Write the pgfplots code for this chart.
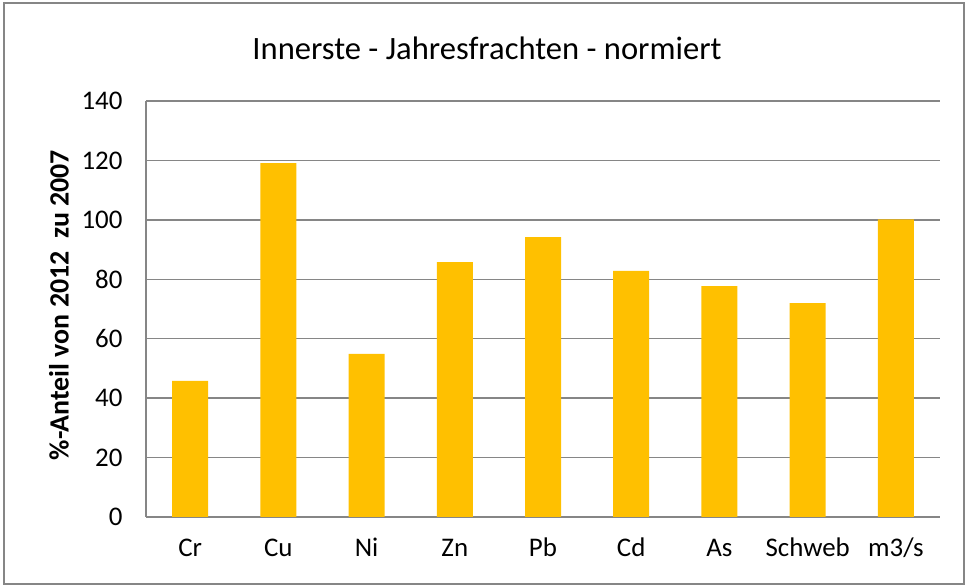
\documentclass[border=0pt]{standalone}
\usepackage{pgfplots}
\pgfplotsset{compat=1.18}
\usepackage{fontspec}
\setmainfont{Carlito}
\definecolor{bargold}{HTML}{FFC000}
\definecolor{gridgray}{HTML}{868686}
\begin{document}
\begin{tikzpicture}[x=1bp,y=1bp]
\path[use as bounding box] (0,0) rectangle (968,587);
\draw[gridgray,line width=2bp] (4,3) rectangle (964,584);
\node[font=\fontsize{32.7}{35}\selectfont] at (487,539) {Innerste - Jahresfrachten - normiert};
\node[font=\fontsize{28}{30}\selectfont\bfseries, rotate=90] at (59,282) {\%-Anteil von 2012~~zu 2007};
\begin{axis}[
  at={(146bp,70bp)}, anchor=south west,
  scale only axis, width=794bp, height=416bp,
  ymin=0, ymax=140, ytick={0,20,...,140},
  xmin=-0.5, xmax=8.5,
  xtick={0,...,8},
  xticklabels={Cr,Cu,Ni,Zn,Pb,Cd,As,Schweb,m3/s},
  ymajorgrids, grid style={gridgray,line width=1.5bp},
  axis line style={gridgray,line width=1.5bp},
  axis x line*=bottom, axis y line*=left,
  major tick length=0pt,
  tick style={draw=none},
  /pgf/number format/assume math mode=true,
  ticklabel style={font=\fontsize{27}{29}\selectfont},
  yticklabel style={xshift=-20bp},
  xticklabel style={anchor=north, text height=2.2ex, text depth=0.6ex, yshift=-26bp},
  ybar, bar width=36bp,
]
\addplot[fill=bargold, draw=none] coordinates {
(0,45.8) (1,119.1) (2,54.9) (3,85.8) (4,94.2) (5,82.8) (6,77.7) (7,72.0) (8,100.2)
};
\end{axis}
\end{tikzpicture}
\end{document}
